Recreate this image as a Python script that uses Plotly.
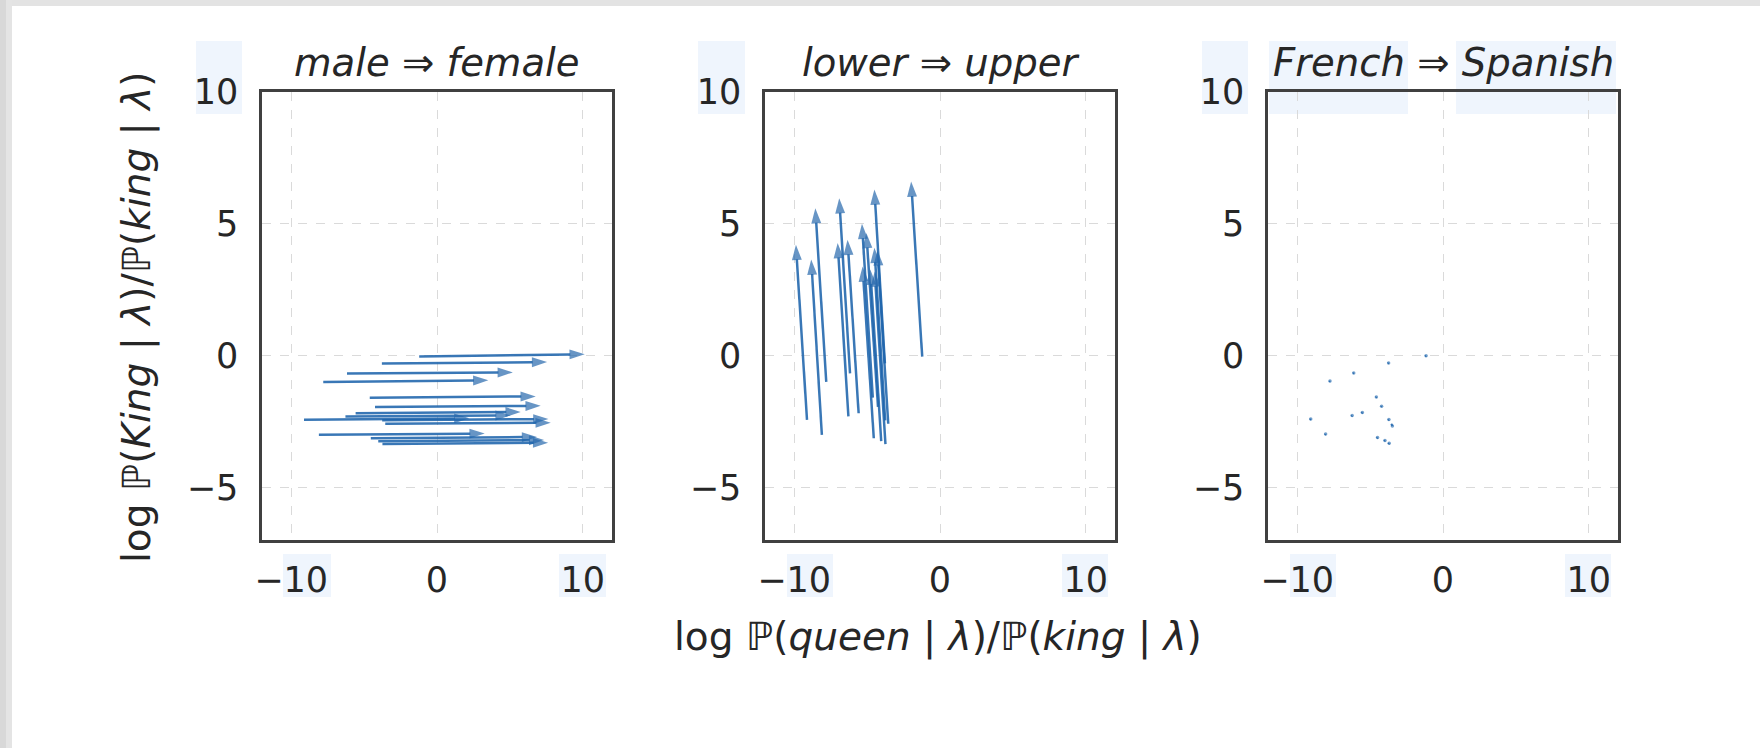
import plotly.graph_objects as go

W, H = 1760, 748

# Starting point of every arrow: (log P(queen|λ)/P(king|λ), log P(King|λ)/P(king|λ))
base_x = [-1.22, -3.78, -6.17, -7.80, -4.61, -4.25, -5.58, -6.28,
          -9.12, -3.76, -3.55, -8.10, -4.54, -4.03, -3.74]
base_y = [-0.04, -0.30, -0.68, -1.00, -1.60, -1.95, -2.19, -2.31,
          -2.44, -2.46, -2.59, -3.01, -3.14, -3.25, -3.36]

# Displacement produced by each concept intervention
gender_dx = [11.35, 11.33, 11.37, 11.32, 11.38, 11.36, 11.32, 11.33,
             11.34, 11.40, 11.35, 11.37, 11.40, 11.38, 11.36]
gender_dy = [0.09, 0.05, 0.04, 0.06, 0.05, 0.04, 0.05, 0.04,
             0.06, 0.05, 0.04, 0.05, 0.05, 0.04, 0.05]

case_dx = [-0.76, -0.72, -0.74, -0.75, -0.74, -0.80, -0.76, -0.74,
           -0.76, -0.74, -0.74, -0.73, -0.77, -0.75, -0.74]
case_dy = [6.64, 6.60, 6.65, 6.59, 6.60, 6.60, 6.58, 6.58,
           6.64, 6.55, 6.58, 6.65, 6.52, 6.51, 6.55]

lang_dx = [0.06, 0.05, 0.05, 0.05, 0.04, 0.04, 0.05, 0.05,
           0.05, 0.05, 0.08, 0.05, 0.05, 0.05, 0.05]
lang_dy = [0.03, 0.02, 0.02, 0.03, 0.03, 0.03, 0.03, 0.03,
           0.03, 0.03, -0.08, 0.03, 0.03, 0.03, 0.03]

concept_from = ["male", "lower", "French"]
concept_to = ["female", "upper", "Spanish"]

x_ticks = [-10, 0, 10]
y_ticks = [-5, 0, 5, 10]
x_range = [-12, 12]
y_range = [-7, 10]

FONT = "DejaVu Sans"
INK = "#262626"
BLUE = "rgba(30,100,172,0.88)"
HEAD = "rgb(38,104,172)"
FRAME = "#404040"
GRID = "#dadada"
HILITE = "#eff5fd"

# panel geometry in pixels
panel_left = [262, 765, 1268]
panel_w = 350
panel_top, panel_bottom = 92, 540


def fx(p):
    return p / W


def fy(p):
    return 1 - p / H


fig = go.Figure()

panels = [(gender_dx, gender_dy), (case_dx, case_dy)]

for k, (dxs, dys) in enumerate(panels):
    xa = "x" if k == 0 else f"x{k + 1}"
    ya = "y" if k == 0 else f"y{k + 1}"
    for bx, by, dx, dy in zip(base_x, base_y, dxs, dys):
        fig.add_trace(go.Scatter(
            x=[bx, bx + dx], y=[by, by + dy],
            mode="lines+markers",
            line=dict(color=BLUE, width=2.5),
            marker=dict(symbol="arrow", size=[0, 16], angleref="previous",
                        color=HEAD, line=dict(width=0)),
            xaxis=xa, yaxis=ya, hoverinfo="skip", showlegend=False,
        ))

# the French => Spanish shifts are so small that each arrow collapses to a dot
for bx, by, dx, dy in zip(base_x, base_y, lang_dx, lang_dy):
    fig.add_trace(go.Scatter(
        x=[bx, bx + dx], y=[by, by + dy],
        mode="lines+markers",
        line=dict(color=BLUE, width=2),
        marker=dict(symbol="circle", size=[0, 3.5], color=BLUE,
                    line=dict(width=0)),
        xaxis="x3", yaxis="y3", hoverinfo="skip", showlegend=False,
    ))

axis_common = dict(
    showline=True, mirror=True, linecolor=FRAME, linewidth=2.5,
    showgrid=True, gridcolor=GRID, gridwidth=1.2, griddash="dash",
    zeroline=False, ticks="", automargin=False,
    tickfont=dict(family=FONT, size=35, color=INK),
)

layout = dict(
    width=W, height=H,
    margin=dict(l=0, r=0, t=0, b=0),
    paper_bgcolor="white", plot_bgcolor="rgba(0,0,0,0)",
    font=dict(family=FONT, color=INK),
    showlegend=False,
)

for k in range(3):
    sx = "" if k == 0 else str(k + 1)
    layout[f"xaxis{sx}"] = dict(
        axis_common,
        domain=[fx(panel_left[k]), fx(panel_left[k] + panel_w)],
        range=x_range, tickvals=x_ticks, anchor=f"y{sx}",
        ticklabelstandoff=7,
    )
    layout[f"yaxis{sx}"] = dict(
        axis_common,
        domain=[fy(panel_bottom), fy(panel_top)],
        range=y_range, tickvals=y_ticks, anchor=f"x{sx}",
        ticklabelstandoff=14,
    )

fig.update_layout(**layout)

annotations = []
for k in range(3):
    cx = panel_left[k] + panel_w / 2
    annotations.append(dict(
        text=f"<i>{concept_from[k]}</i> ⇒ <i>{concept_to[k]}</i>",
        xref="paper", yref="paper", x=fx(cx), y=fy(87),
        xanchor="center", yanchor="bottom", showarrow=False,
        font=dict(family=FONT, size=38.6, color=INK),
    ))

annotations.append(dict(
    text="log <i>ℙ</i>(<i>queen</i> | <i>λ</i>)/<i>ℙ</i>(<i>king</i> | <i>λ</i>)",
    xref="paper", yref="paper", x=fx(938), y=fy(637),
    xanchor="center", yanchor="middle", showarrow=False,
    font=dict(family=FONT, size=39, color=INK),
))
annotations.append(dict(
    text="log <i>ℙ</i>(<i>King</i> | <i>λ</i>)/<i>ℙ</i>(<i>king</i> | <i>λ</i>)",
    xref="paper", yref="paper", x=fx(137), y=fy(318), textangle=-90,
    xanchor="center", yanchor="middle", showarrow=False,
    font=dict(family=FONT, size=39, color=INK),
))
fig.update_layout(annotations=annotations)

# window chrome: grey strips along the top and left edges
shapes = [
    dict(type="rect", xref="paper", yref="paper", x0=0, x1=1, y0=fy(6), y1=1,
         fillcolor="#e3e3e3", line=dict(width=0), layer="below"),
    dict(type="rect", xref="paper", yref="paper", x0=0, x1=fx(6), y0=0, y1=1,
         fillcolor="#d8d8d8", line=dict(width=0), layer="below"),
    dict(type="rect", xref="paper", yref="paper", x0=fx(6), x1=fx(12), y0=0, y1=1,
         fillcolor="#e4e4e4", line=dict(width=0), layer="below"),
]

# pale selection-style highlight boxes behind some labels
hilite_boxes = [
    (196, 242, 41, 114), (698, 745, 41, 114), (1202, 1248, 41, 114),
    (1269, 1408, 41, 114), (1456, 1616, 41, 114),
    (283, 331, 554, 597), (559, 606, 554, 597),
    (787, 833, 554, 597), (1062, 1108, 554, 597),
    (1290, 1336, 554, 597), (1565, 1611, 554, 597),
]
for x0, x1, y0, y1 in hilite_boxes:
    shapes.append(dict(type="rect", xref="paper", yref="paper",
                       x0=fx(x0), x1=fx(x1), y0=fy(y1), y1=fy(y0),
                       fillcolor=HILITE, line=dict(width=0), layer="below"))

fig.update_layout(shapes=shapes)

fig.write_html("out.html")
